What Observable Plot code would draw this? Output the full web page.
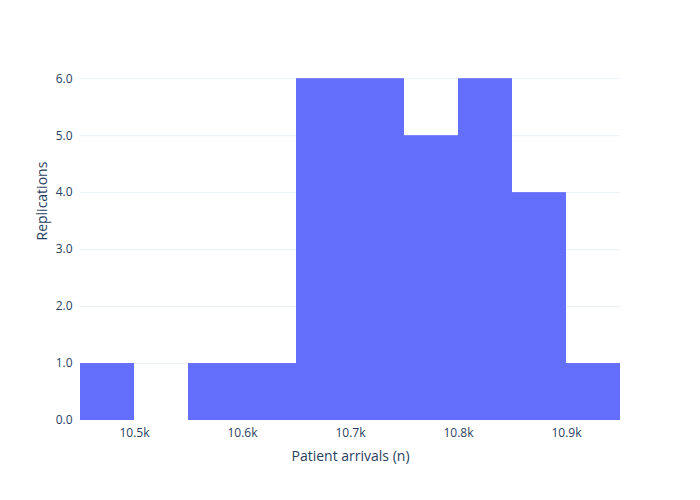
<!DOCTYPE html>
<html>
<head>
<meta charset="utf-8">
<script src="https://cdn.jsdelivr.net/npm/d3@7"></script>
<script src="https://cdn.jsdelivr.net/npm/@observablehq/plot@0.6"></script>
<style>
  body { margin: 0; background: #fff; }
  #chart text { font-family: "Open Sans", sans-serif; }
</style>
</head>
<body>
<div id="chart"></div>
<script>
// histogram bins (width 50) and replication counts
const binStarts = [10450, 10500, 10550, 10600, 10650, 10700, 10750, 10800, 10850, 10900]
const counts = [1, 0, 1, 1, 6, 6, 5, 6, 4, 1]
const binWidth = 50
const xTicks = [10500, 10600, 10700, 10800, 10900]
const yTicks = [0, 1, 2, 3, 4, 5, 6]

const bins = binStarts.map((s, i) => ({x1: s, x2: s + binWidth, y: counts[i]}))

let chart = Plot.plot({
  width: 700,
  height: 500,
  marginLeft: 80,
  marginRight: 80,
  marginTop: 60,
  marginBottom: 80,
  style: {background: "#fff", color: "#2a3f5f", fontSize: "12px"},
  x: {domain: [10450, 10950], ticks: xTicks, tickFormat: d => (d / 1000).toFixed(1) + "k",
      tickSize: 0, label: null},
  y: {domain: [0, 6.32], ticks: yTicks, tickSize: 0, label: null},
  marks: [
    Plot.gridY(yTicks.filter(d => d > 0), {stroke: "#ebf0f8", strokeOpacity: 1}),
    Plot.rectY(bins, {x1: "x1", x2: "x2", y: "y", fill: "#636efa"}),
    Plot.axisX({ticks: xTicks, tickSize: 0, tickPadding: 8,
      tickFormat: d => (d / 1000).toFixed(1) + "k", label: null}),
    Plot.axisY({ticks: yTicks, tickSize: 0, tickPadding: 8, label: null}),
    Plot.text(["Patient arrivals (n)"], {frameAnchor: "bottom", dy: 40, fontSize: 14}),
    Plot.text(["Replications"], {frameAnchor: "left", dx: -38, rotate: -90, fontSize: 14})
  ]
})

d3.select("#chart").append(() => chart)
</script>
</body>
</html>
